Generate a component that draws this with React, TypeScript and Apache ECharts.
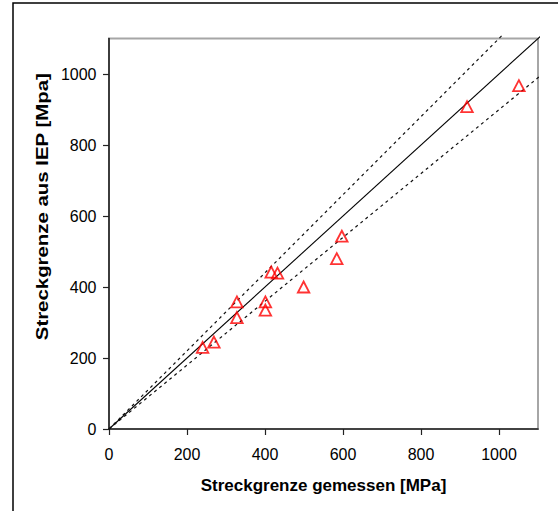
import React, { useEffect, useRef } from "react";
import * as echarts from "echarts";

const xTicks = [0, 200, 400, 600, 800, 1000];
const yTicks = [0, 200, 400, 600, 800, 1000];

const measured = [240, 269, 328, 328, 401, 401, 416, 432, 499, 584, 597, 918, 1051];
const iep = [230, 245, 358, 314, 358, 335, 442, 439, 400, 480, 543, 908, 967];

const identityLine = [[0, 0], [1115, 1115]];
const upperLine = [[0, 0], [1010, 1111]];
const lowerLine = [[0, 0], [1115, 1003]];

const xName = "Streckgrenze gemessen [MPa]";
const yName = "Streckgrenze aus IEP [Mpa]";

const FONT = "'Liberation Sans', Arial, sans-serif";

export default function App() {
  const ref = useRef<HTMLDivElement>(null);
  useEffect(() => {
    if (!ref.current) return;
    const chart = echarts.init(ref.current, undefined, { renderer: "svg" });
    const points = measured.map((m, i) => [m, iep[i]]);
    const fmt = (v: number) => String(v);
    const axisCommon = {
      type: "value" as const,
      min: 0,
      max: 1100,
      interval: 200,
      splitLine: { show: false },
      axisLine: { show: true, lineStyle: { color: "#222", width: 1.6 } },
      axisTick: { show: true, inside: false, length: 6, lineStyle: { color: "#222", width: 1.2 } },
    };
    chart.setOption({
      animation: false,
      backgroundColor: "#fff",
      textStyle: { fontFamily: FONT },
      grid: {
        left: 109,
        right: 20,
        top: 38.5,
        bottom: 82,
        show: true,
        borderColor: "#a6a6a6",
        borderWidth: 2,
        backgroundColor: "transparent",
        containLabel: false,
        outerBoundsMode: "none",
      },
      xAxis: {
        ...axisCommon,
        axisTick: { ...axisCommon.axisTick, customValues: xTicks },
        axisLabel: { customValues: xTicks, formatter: fmt, margin: 17, color: "#000", fontSize: 16, fontFamily: FONT },
        name: xName,
        nameLocation: "middle",
        nameGap: 48,
        nameTextStyle: { fontSize: 17, fontWeight: "bold", color: "#000", fontFamily: FONT },
      },
      yAxis: {
        ...axisCommon,
        axisTick: { ...axisCommon.axisTick, customValues: yTicks },
        axisLabel: { customValues: yTicks, formatter: fmt, margin: 12.5, color: "#000", fontSize: 16, fontFamily: FONT },
      },
      graphic: [
        {
          type: "rect",
          shape: { x: 13, y: 3, width: 700, height: 700 },
          style: { fill: "none", stroke: "#000", lineWidth: 1.5 },
          silent: true,
          z: 100,
        },
        {
          type: "text",
          x: 41.7,
          y: 206.7,
          rotation: Math.PI / 2,
          scaleX: 1.2,
          style: {
            text: yName,
            font: "bold 17px " + FONT,
            fill: "#000",
            textAlign: "center",
            textVerticalAlign: "middle",
          },
        },
      ],
      series: [
        {
          type: "line",
          data: identityLine,
          symbol: "none",
          clip: false,
          lineStyle: { color: "#000", width: 1.1 },
          z: 2,
        },
        {
          type: "line",
          data: upperLine,
          symbol: "none",
          clip: false,
          lineStyle: { color: "#111", width: 1.2, type: [3, 3.5] },
          z: 2,
        },
        {
          type: "line",
          data: lowerLine,
          symbol: "none",
          clip: false,
          lineStyle: { color: "#111", width: 1.2, type: [3, 3.5] },
          z: 2,
        },
        {
          type: "scatter",
          data: points,
          symbol: "triangle",
          symbolSize: [11.5, 11],
          itemStyle: { color: "rgba(255,255,255,0)", borderColor: "#ff0000", borderWidth: 1.8 },
          z: 5,
        },
      ],
    });
    return () => chart.dispose();
  }, []);
  return (
    <div
      ref={ref}
      style={{ position: "absolute", left: 0, top: 0, width: 558, height: 511 }}
    />
  );
}
